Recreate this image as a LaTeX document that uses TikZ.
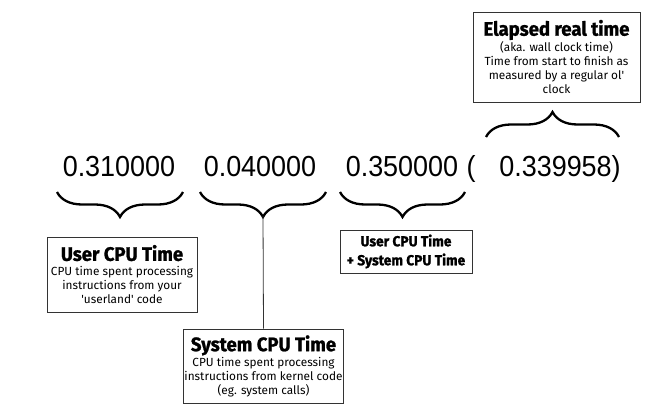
\documentclass[tikz,border=0pt]{standalone}
\usepackage{fontspec}
\setmainfont{Fira Sans}
\newfontfamily\headfont[FakeBold=1.2,FakeStretch=0.95]{Fira Sans}
\newfontfamily\numfont[FakeStretch=0.93]{Liberation Sans}
\usetikzlibrary{decorations.pathreplacing,positioning}
\newcommand{\hd}[1]{{\headfont\fontsize{19.5}{21}\selectfont\bfseries #1}}

\begin{document}
\begin{tikzpicture}[x=1pt, y=-1pt,
    num/.style = {anchor=base, inner sep=0pt, font=\numfont\fontsize{29}{29}\selectfont},
    box/.style = {draw=black!80, line width=0.8pt, align=center, inner sep=1pt, font=\fontsize{11.8}{14}\selectfont},
    brc/.style = {decorate, decoration={brace, amplitude=25pt}, line width=2.3pt}]
  \useasboundingbox (0,0) rectangle (650,415);
  % the timing line
  \node[num] (n1) at (119,176) {0.310000};
  \node[num] (n2) at (260,176) {0.040000};
  \node[num] (n3) at (402,176) {0.350000};
  \node[num] (par) at (471,176) {(};
  \node[num] (n4) at (560,176) {0.339958)};
  % brace ends
  \coordinate (u1) at (183,192); \coordinate (u2) at (57,192);
  \coordinate (s1) at (326,192); \coordinate (s2) at (200,192);
  \coordinate (t1) at (465,192); \coordinate (t2) at (340,192);
  \coordinate (e1) at (486,137); \coordinate (e2) at (619,137);
  \coordinate (tip) at (263,216);
  \draw[brc] (u1) -- (u2);
  \draw[brc] (s1) -- (s2);
  \draw[brc] (t1) -- (t2);
  \draw[brc] (e1) -- (e2);
  % boxes
  \node[box, minimum width=167pt, minimum height=90pt] (real) at (556.5,57)
    {\hd{Elapsed real time}\\[1pt](aka. wall clock time)\\Time from start to finish as\\measured by a regular ol\textquotesingle\\clock};
  \node[box, minimum width=150pt, minimum height=75pt] (user) at (122,274.5)
    {\hd{User CPU Time}\\[1pt]CPU time spent processing\\instructions from your\\\textquotesingle userland\textquotesingle{} code};
  \node[box, minimum width=159pt, minimum height=74pt] (sys) at (263.5,366)
    {\hd{System CPU Time}\\[1pt]CPU time spent processing\\instructions from kernel code\\(eg. system calls)};
  \node[box, minimum width=132pt, minimum height=43pt, font=\headfont\fontsize{14.5}{19}\selectfont\bfseries] (sum) at (406,251.5)
    {User CPU Time\\+ System CPU Time};
  \draw[line width=0.8pt, black!80] (tip) -- (sys.north);
\end{tikzpicture}
\end{document}
